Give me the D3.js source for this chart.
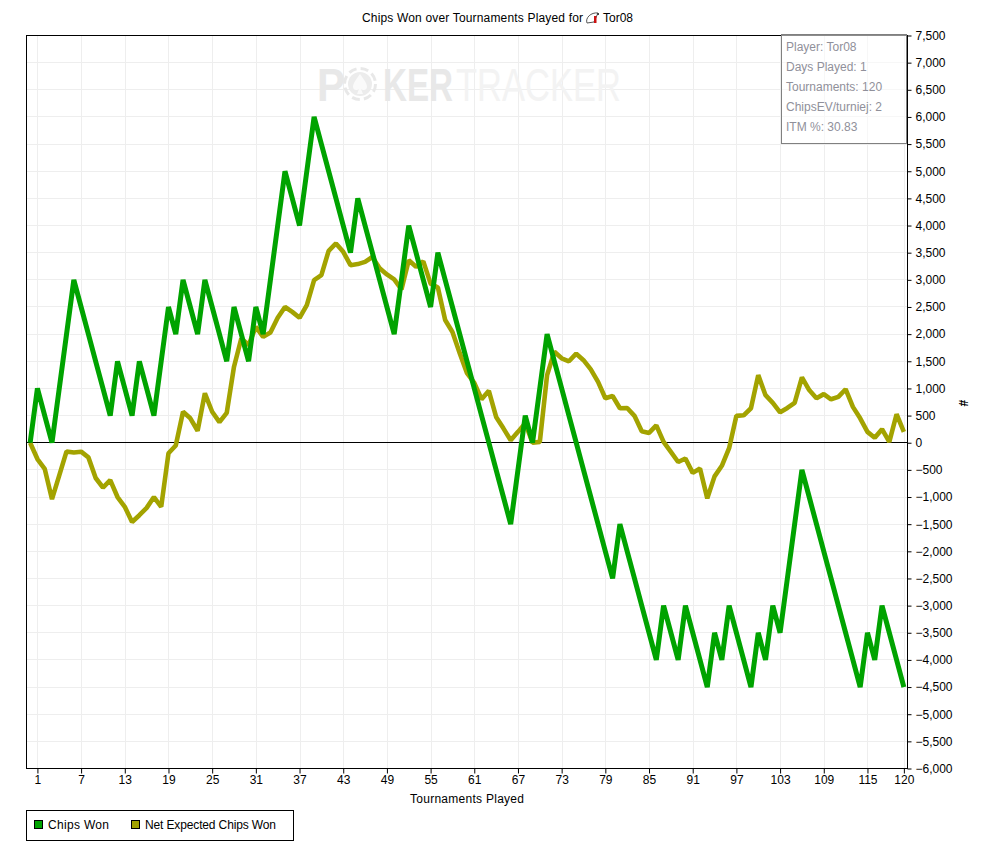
<!DOCTYPE html>
<html>
<head>
<meta charset="utf-8">
<title>Chips Won</title>
<script src="https://cdn.jsdelivr.net/npm/d3@7"></script>
<style>
html, body { margin: 0; padding: 0; background: #fff; overflow: hidden; }
svg { display: block; }
text { font-family: "Liberation Sans", Arial, sans-serif; }
</style>
</head>
<body>
<script>
// values, one per tournament (0 to 120)
var chipsWon = [0,1000,500,0,1000,2000,3000,2500,2000,1500,1000,500,1500,1000,500,1500,1000,500,1500,2500,
	2000,3000,2500,2000,3000,2500,2000,1500,2500,2000,1500,2500,2000,3000,4000,5000,4500,4000,5000,6000,
	5500,5000,4500,4000,3500,4500,4000,3500,3000,2500,2000,3000,4000,3500,3000,2500,3500,3000,2500,2000,
	1500,1000,500,0,-500,-1000,-1500,-500,500,0,1000,2000,1500,1000,500,0,-500,-1000,-1500,-2000,
	-2500,-1500,-2000,-2500,-3000,-3500,-4000,-3000,-3500,-4000,-3000,-3500,-4000,-4500,-3500,-4000,-3000,-3500,-4000,-4500,
	-3500,-4000,-3000,-3500,-2500,-1500,-500,-1000,-1500,-2000,-2500,-3000,-3500,-4000,-4500,-3500,-4000,-3000,-3500,-4000,-4500]

var netExpected = [0,-300,-480,-1040,-600,-160,-180,-165,-270,-650,-825,-690,-1000,-1180,-1460,-1335,-1200,-1000,-1180,-195,
	-50,570,450,220,910,570,380,550,1400,1920,1800,2135,1950,2030,2300,2500,2410,2300,2535,2995,
	3087,3535,3670,3516,3270,3290,3330,3420,3215,3100,3010,2825,3360,3240,3340,2930,2860,2260,2040,1650,
	1280,1100,800,955,475,265,46,200,360,0,15,1245,1675,1555,1500,1640,1520,1350,1120,820,
	860,635,640,495,210,180,320,15,-170,-355,-290,-555,-475,-1025,-620,-425,-100,495,505,635,
	1245,875,735,560,640,735,1205,970,820,895,800,845,985,660,450,200,90,250,15,525,200]

var xTicks = [1,7,13,19,25,31,37,43,49,55,61,67,73,79,85,91,97,103,109,115,120]
var yTicks = d3.range(-6000, 7501, 500)
var statLines = ["Player: Tor08", "Days Played: 1", "Tournaments: 120", "ChipsEV/turniej: 2", "ITM %: 30.83"]

var green = "#00a300", olive = "#a3a300"
var left = 26.5, right = 907.5, top_ = 35.5, bottom = 768.5

var svg = d3.select("body").append("svg")
	.attr("width", 981)
	.attr("height", 851)

var x = d3.scaleLinear().domain([-0.5, 120.5]).range([left, right])
var y = d3.scaleLinear().domain([-6000, 7500]).range([bottom, top_])

// grid
svg.append("g").selectAll("line").data(xTicks).enter().append("line")
	.attr("x1", function(d) {return Math.round(x(d)) + 0.5})
	.attr("x2", function(d) {return Math.round(x(d)) + 0.5})
	.attr("y1", top_).attr("y2", bottom)
	.attr("stroke", "#eeeeee")

svg.append("g").selectAll("line").data(yTicks).enter().append("line")
	.attr("x1", left).attr("x2", right)
	.attr("y1", function(d) {return Math.round(y(d) - 0.5) + 0.5})
	.attr("y2", function(d) {return Math.round(y(d) - 0.5) + 0.5})
	.attr("stroke", "#eeeeee")

// watermark, squeezed with a transform so each word fills its width
function wmWord(str, px, width, color, weight) {
	var t = wm.append("text").attr("font-size", 47).attr("font-weight", weight)
		.attr("fill", color).text(str)
	var natural = t.node().getComputedTextLength()
	t.attr("transform", "translate(" + px + ",101) scale(" + (width / natural) + ",1)")
}

var wm = svg.append("g")
wmWord("P", 317, 28, "#e8e8e8", "bold")
wm.append("circle").attr("cx", 360).attr("cy", 84).attr("r", 12).attr("fill", "#ececec")
wm.append("circle").attr("cx", 360).attr("cy", 84).attr("r", 15.5).attr("fill", "none")
	.attr("stroke", "#e8e8e8").attr("stroke-width", 3).attr("stroke-dasharray", "8 4.2")
wm.append("path")
	.attr("d", "M360 74 C364 80 367 83 367 87 C367 90 363 91 361 89 L363 94 L357 94 L359 89 C357 91 353 90 353 87 C353 83 356 80 360 74 Z")
	.attr("fill", "#fafafa")
wmWord("KER", 383, 70, "#e8e8e8", "bold")
wmWord("TRACKER", 456, 165, "#f3f3f3", "normal")

// zero line
svg.append("line")
	.attr("x1", left).attr("x2", right)
	.attr("y1", Math.round(y(0) - 0.5) + 0.5).attr("y2", Math.round(y(0) - 0.5) + 0.5)
	.attr("stroke", "#000")

// the two series
var line = d3.line()
	.x(function(d, i) {return x(i)})
	.y(function(d) {return y(d)})

svg.append("path").datum(netExpected)
	.attr("d", line).attr("fill", "none")
	.attr("stroke", olive).attr("stroke-width", 4.6).attr("stroke-linejoin", "bevel")

svg.append("path").datum(chipsWon)
	.attr("d", line).attr("fill", "none")
	.attr("stroke", green).attr("stroke-width", 5).attr("stroke-linejoin", "bevel")

// frame
svg.append("rect")
	.attr("x", left).attr("y", top_)
	.attr("width", right - left).attr("height", bottom - top_)
	.attr("fill", "none").attr("stroke", "#000")

// axes
var xAxis = svg.append("g")
	.attr("transform", "translate(0," + bottom + ")")
	.call(d3.axisBottom(x).tickValues(xTicks).tickSize(5).tickPadding(2).tickFormat(d3.format("d")))
xAxis.select(".domain").remove()

var yAxis = svg.append("g")
	.attr("transform", "translate(" + right + ",0)")
	.call(d3.axisRight(y).tickValues(yTicks).tickSize(4).tickPadding(4).tickFormat(d3.format(",")))
yAxis.select(".domain").remove()

svg.selectAll(".tick text")
	.attr("font-size", 12)
	.style("font-family", '"Liberation Sans", Arial, sans-serif')
	.attr("fill", "#000")

// titles
var title = svg.append("text").attr("y", 22).attr("font-size", 12).attr("fill", "#000")
title.append("tspan").attr("x", 362).attr("textLength", 221).text("Chips Won over Tournaments Played for")
title.append("tspan").attr("x", 603).text("Tor08")

// little player icon beside the name
svg.append("path")
	.attr("d", "M587 23 C585 18 591 12 598 13 L594 22 Z")
	.attr("fill", "#fff").attr("stroke", "#555").attr("stroke-width", 1)
svg.append("rect").attr("x", 594).attr("y", 16).attr("width", 2.5).attr("height", 7).attr("fill", "#cc1111")
svg.append("rect").attr("x", 597).attr("y", 13).attr("width", 2).attr("height", 2).attr("fill", "#444")

svg.append("text").attr("x", 467).attr("y", 803).attr("text-anchor", "middle")
	.attr("font-size", 12).attr("textLength", 114).text("Tournaments Played")

svg.append("text")
	.attr("transform", "translate(959,403) rotate(90)")
	.attr("text-anchor", "middle").attr("font-size", 12).attr("font-weight", "bold").text("#")

// stats box
svg.append("rect")
	.attr("x", 781.5).attr("y", 34.5).attr("width", 125).attr("height", 109)
	.attr("fill", "#fff").attr("fill-opacity", 0.55).attr("stroke", "#808080").attr("stroke-width", 1)

svg.append("g").selectAll("text").data(statLines).enter().append("text")
	.attr("x", 786)
	.attr("y", function(d, i) {return 51 + i * 20})
	.attr("font-size", 12)
	.attr("fill", "#90909a")
	.text(function(d) {return d})

// legend
svg.append("rect")
	.attr("x", 26.5).attr("y", 810.5).attr("width", 267).attr("height", 30)
	.attr("fill", "#fff").attr("stroke", "#000")

var legendNames = ["Chips Won", "Net Expected Chips Won"]
var legendColors = [green, olive]
var legendX = [35, 132]
var legendWidths = [61, 131]

legendNames.forEach(function(name, i) {
	svg.append("rect")
		.attr("x", legendX[i] - 0.5).attr("y", 820.5).attr("width", 8).attr("height", 8)
		.attr("fill", legendColors[i]).attr("stroke", "#000")
	svg.append("text")
		.attr("x", legendX[i] + 13).attr("y", 829)
		.attr("font-size", 12).attr("textLength", legendWidths[i]).text(name)
})
</script>
</body>
</html>
